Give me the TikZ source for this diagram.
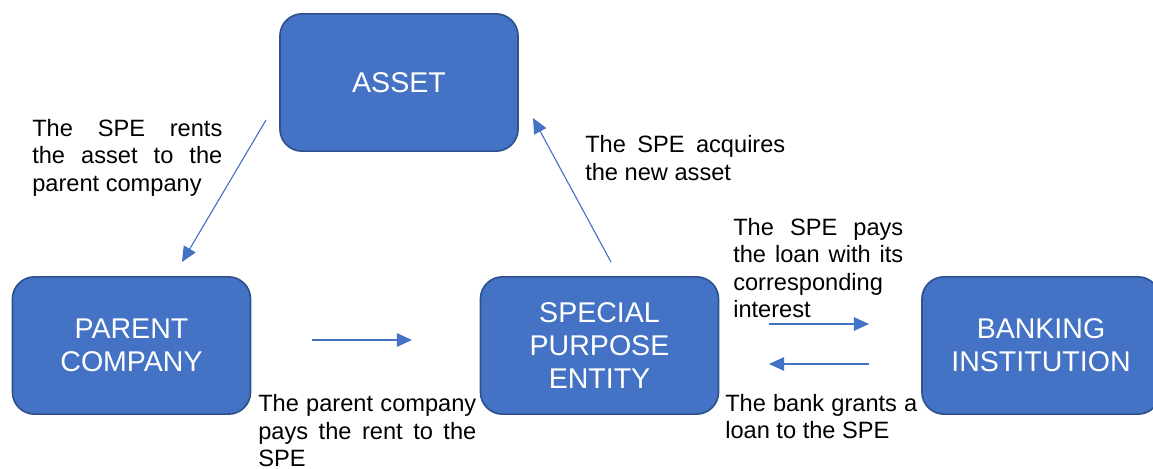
\documentclass[tikz,border=0pt]{standalone}
\usepackage{fontspec}
\setmainfont{Liberation Sans}
\usetikzlibrary{arrows.meta, positioning}
\definecolor{boxblue}{RGB}{68, 114, 196}
\definecolor{boxedge}{RGB}{47, 82, 143}

\begin{document}
\begin{tikzpicture}[
    x=0.025cm, y=-0.025cm,
    entity/.style={rectangle, rounded corners=0.55cm, minimum width=5.95cm, minimum height=3.43cm, fill=boxblue, draw=boxedge, line width=1.2pt, text=white, align=center, font=\fontsize{20.3}{23.5}\selectfont},
    note/.style={anchor=north west, inner sep=0pt, align=justify, font=\fontsize{16.8}{19.5}\selectfont},
    arrow/.style={-{Triangle[length=0.38cm, width=0.34cm]}, boxblue, line width=0.8pt}
]
    \useasboundingbox (0,0) rectangle (1153,468);

    % Entities
    \node[entity] (asset) at (399,82.5) {ASSET};
    \node[entity] (parent) at (131.5,345.5) {PARENT\\COMPANY};
    \node[entity] (spe) at (599.5,345.5) {SPECIAL\\PURPOSE\\ENTITY};
    \node[entity] (bank) at (1041,345.5) {BANKING\\INSTITUTION};

    % Arrow ends
    \coordinate (rentsFrom) at (266,120);
    \coordinate (rentsTo) at (182,262);
    \coordinate (acquiresFrom) at (611,262);
    \coordinate (acquiresTo) at (533,118);
    \coordinate (payRentFrom) at (312,340);
    \coordinate (payRentTo) at (412,340);
    \coordinate (payLoanFrom) at (769,324);
    \coordinate (payLoanTo) at (869,324);
    \coordinate (grantFrom) at (869,364);
    \coordinate (grantTo) at (769,364);

    % Flows
    \draw[arrow] (rentsFrom) -- (rentsTo);
    \draw[arrow] (acquiresFrom) -- (acquiresTo);
    \draw[arrow] (payRentFrom) -- (payRentTo);
    \draw[arrow] (payLoanFrom) -- (payLoanTo);
    \draw[arrow] (grantFrom) -- (grantTo);

    % Notes
    \node[note, text width=4.75cm] (rentsNote) at (32,119) {The SPE rents\linebreak the asset to the\linebreak parent company};
    \node[note, text width=5cm] (acquiresNote) at (585,135.5) {The SPE acquires\linebreak the new asset};
    \node[note, text width=4.25cm] (payLoanNote) at (733,218) {The SPE pays\linebreak the loan with its\linebreak corresponding\newline interest};
    \node[note, text width=4.8cm] (grantNote) at (725,394) {The bank grants a\linebreak loan to the SPE};
    \node[note, text width=5.45cm] (payRentNote) at (258,394.5) {The parent company\linebreak pays the rent to the\linebreak SPE};

\end{tikzpicture}
\end{document}
